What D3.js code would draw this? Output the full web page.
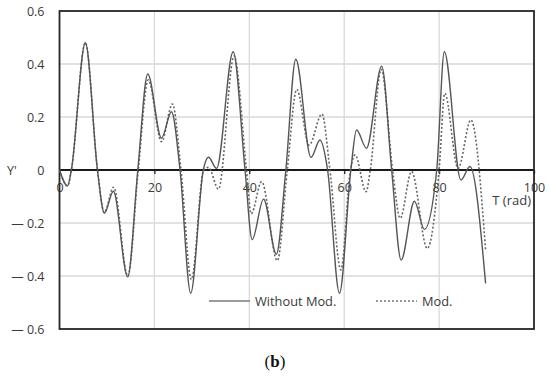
<!DOCTYPE html>
<html>
<head>
<meta charset="utf-8">
<script src="https://cdn.jsdelivr.net/npm/d3@7"></script>
<style>
  body { margin: 0; background: #fff; }
  svg { display: block; font-family: "Open Sans", sans-serif; }
</style>
</head>
<body>
<div id="chart"></div>
<script>
// values (T in rad, Y')
var tWithout = [0, 1.7, 2.5, 5.45, 8.0, 9.45, 11.35, 14.37, 16.5, 18.6, 21.5, 23.6, 25.4, 27.65, 30.3, 31.4, 33.1, 36.6, 39.1, 40.6, 43.0, 45.7, 47.7, 49.8, 53.0, 54.9, 56.5, 59.0, 61.4, 62.6, 64.7, 67.9, 70.0, 72.0, 74.8, 76.9, 79.5, 81.1, 84.6, 86.5, 89.8];
var yWithout = [0, -0.06, 0, 0.48, 0, -0.163, -0.08, -0.403, 0, 0.362, 0.12, 0.22, 0, -0.465, 0, 0.048, 0.006, 0.446, 0, -0.263, -0.11, -0.318, 0, 0.418, 0.048, 0.113, 0, -0.465, 0, 0.151, 0.082, 0.392, 0, -0.34, -0.118, -0.224, 0, 0.446, -0.038, 0.013, -0.428];

var tMod = [0, 1.7, 2.5, 5.45, 8.0, 9.45, 11.4, 14.4, 16.6, 18.7, 21.5, 23.8, 25.6, 27.8, 30.4, 31.4, 33.5, 36.8, 39.4, 40.4, 42.6, 45.9, 48.0, 50.0, 52.6, 55.3, 57.0, 59.3, 61.3, 62.3, 64.6, 65.5, 67.8, 70.2, 71.8, 74.2, 77.5, 80.0, 81.2, 84.0, 86.7, 89.8];
var yMod = [0, -0.06, 0, 0.48, 0, -0.16, -0.065, -0.40, 0, 0.34, 0.107, 0.249, 0, -0.413, 0, 0.01, -0.072, 0.43, 0, -0.165, -0.044, -0.342, 0, 0.304, 0.094, 0.211, 0, -0.377, 0, 0.057, -0.082, 0, 0.38, 0, -0.182, -0.006, -0.296, 0, 0.289, 0.006, 0.189, -0.302];

var xTicks = [0, 20, 40, 60, 80, 100];
var yTicks = [-0.6, -0.4, -0.2, 0, 0.2, 0.4, 0.6];

var width = 550, height = 376;
var plot = {left: 59.5, right: 534, top: 11, bottom: 329};

var svg = d3.select("#chart").append("svg")
    .attr("width", width)
    .attr("height", height);

var x = d3.scaleLinear().domain([0, 100]).range([plot.left, plot.right]);
var y = d3.scaleLinear().domain([-0.6, 0.6]).range([plot.bottom, plot.top]);

// grid
svg.append("g").selectAll("line")
    .data(xTicks.filter(function(d) { return d > 0 && d < 100; }))
    .enter().append("line")
    .attr("x1", function(d) { return x(d); })
    .attr("x2", function(d) { return x(d); })
    .attr("y1", plot.top)
    .attr("y2", plot.bottom)
    .style("stroke", "#d9d9d9")
    .style("stroke-width", 1.3);

svg.append("g").selectAll("line")
    .data(yTicks.filter(function(d) { return d != 0 && Math.abs(d) < 0.6; }))
    .enter().append("line")
    .attr("x1", plot.left)
    .attr("x2", plot.right)
    .attr("y1", function(d) { return y(d); })
    .attr("y2", function(d) { return y(d); })
    .style("stroke", "#d9d9d9")
    .style("stroke-width", 1.3);

// y axis labels
var yAxis = d3.axisLeft(y)
    .tickValues(yTicks)
    .tickSize(0)
    .tickPadding(15)
    .tickFormat(function(d) { return d < 0 ? "\u2014 " + d3.format("")(-d) : d3.format("")(d); });

svg.append("g")
    .attr("transform", "translate(" + plot.left + ",0)")
    .call(yAxis)
    .call(function(g) { g.select(".domain").remove(); })
    .selectAll("text")
    .style("font-size", "12.5px")
    .style("fill", "#3a3a3a")
    .style("font-family", "Open Sans");

// x axis through zero
var xAxis = d3.axisBottom(x)
    .tickValues(xTicks)
    .tickSize(4)
    .tickPadding(9)
    .tickFormat(d3.format("d"));

var gx = svg.append("g")
    .attr("transform", "translate(0," + y(0) + ")")
    .call(xAxis);
gx.select(".domain").remove();
gx.selectAll(".tick line").style("stroke", "#222").style("stroke-width", 1.3);
gx.selectAll("text")
    .style("font-size", "12.5px")
    .style("fill", "#3a3a3a")
    .style("font-family", "Open Sans");

svg.append("line")
    .attr("x1", plot.left)
    .attr("x2", plot.right)
    .attr("y1", y(0))
    .attr("y2", y(0))
    .style("stroke", "#1a1a1a")
    .style("stroke-width", 1.8);

// frame
svg.append("rect")
    .attr("x", plot.left)
    .attr("y", plot.top)
    .attr("width", plot.right - plot.left)
    .attr("height", plot.bottom - plot.top)
    .style("fill", "none")
    .style("stroke", "#262626")
    .style("stroke-width", 1.8);

// curves
var line = d3.line()
    .x(function(d) { return x(d[0]); })
    .y(function(d) { return y(d[1]); })
    .curve(d3.curveMonotoneX);

svg.append("path")
    .datum(d3.zip(tMod, yMod))
    .attr("d", line)
    .style("fill", "none")
    .style("stroke", "#666")
    .style("stroke-width", 1.6)
    .style("stroke-dasharray", "2,2");

svg.append("path")
    .datum(d3.zip(tWithout, yWithout))
    .attr("d", line)
    .style("fill", "none")
    .style("stroke", "#555")
    .style("stroke-width", 1.4);

// axis titles
svg.append("text")
    .attr("x", 7)
    .attr("y", y(0) + 5)
    .style("font-size", "12.5px")
    .style("fill", "#3a3a3a")
    .text("Y'");

svg.append("text")
    .attr("x", 531)
    .attr("y", 205)
    .attr("text-anchor", "end")
    .style("font-size", "13px")
    .style("fill", "#3a3a3a")
    .text("T (rad)");

// legend
var legend = [
  {label: "Without Mod.", x: 209, dash: null},
  {label: "Mod.", x: 376, dash: "2,2"}
];
var lg = svg.selectAll(".legend")
    .data(legend)
    .enter().append("g")
    .attr("class", "legend")
    .attr("transform", function(d) { return "translate(" + d.x + ",301)"; });

lg.append("line")
    .attr("x1", 0)
    .attr("x2", 41)
    .style("stroke", "#7a7a7a")
    .style("stroke-width", 1.5)
    .style("stroke-dasharray", function(d) { return d.dash; });

lg.append("text")
    .attr("x", 46)
    .attr("y", 4.5)
    .style("font-size", "12.8px")
    .style("fill", "#3a3a3a")
    .text(function(d) { return d.label; });

// caption
var cap = svg.append("text")
    .attr("x", 275)
    .attr("y", 367)
    .attr("text-anchor", "middle")
    .style("font-family", "Liberation Serif, serif")
    .style("font-size", "17px")
    .style("fill", "#111");
cap.append("tspan").text("(");
cap.append("tspan").style("font-weight", "bold").text("b");
cap.append("tspan").text(")");
</script>
</body>
</html>
